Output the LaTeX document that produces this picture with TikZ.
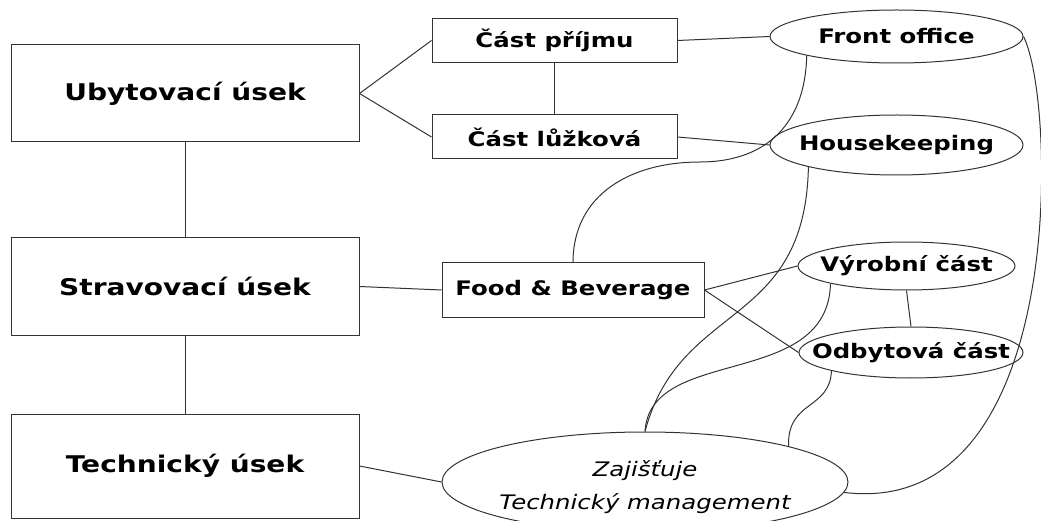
\documentclass[tikz,border=0pt]{standalone}
\usepackage{fontspec}
\setmainfont{DejaVu Sans}[FakeStretch=1.22]
\usetikzlibrary{shapes.geometric}
\tikzstyle{usek} = [rectangle, draw=black!80, line width=1pt, minimum width=348pt, minimum height=97pt, inner sep=0pt, font=\fontsize{23}{28}\selectfont\bfseries]
\tikzstyle{cast} = [rectangle, draw=black!80, line width=1pt, minimum width=245pt, minimum height=44pt, inner sep=0pt, font=\fontsize{20}{24}\selectfont\bfseries]
\tikzstyle{oval} = [ellipse, draw=black!80, line width=1pt, inner sep=0pt, font=\fontsize{20}{24}\selectfont\bfseries]
\tikzstyle{spoj} = [draw=black!80, line width=1pt]

\begin{document}
\begin{tikzpicture}[x=1pt,y=1pt]
\useasboundingbox (0,0) rectangle (1041,520);
% useky
\node (ubyt) [usek] at (185,426.5) {Ubytovací úsek};
\node (strav) [usek] at (185,233.5) {Stravovací úsek};
\node (tech) [usek,minimum height=104pt] at (185,54) {Technický úsek};
% casti
\node (prijem) [cast] at (554.5,479.5) {Část příjmu};
\node (luzko) [cast] at (554.5,383) {Část lůžková};
\node (fb) [cast,minimum width=262pt,minimum height=54pt] at (573,230) {Food \& Beverage};
% ovaly
\node (front) [oval,minimum width=253pt,minimum height=53pt] at (896.5,483.5) {\makebox[0pt]{Front office}};
\node (house) [oval,minimum width=253pt,minimum height=60pt] at (896.5,375) {\makebox[0pt]{Housekeeping}};
\node (vyr) [oval,minimum width=217pt,minimum height=48pt] at (906.5,254) {\makebox[0pt]{Výrobní část}};
\node (odb) [oval,minimum width=224pt,minimum height=51pt] at (911,167.5) {\makebox[0pt]{Odbytová část}};
\node (zaj) [oval,minimum width=406pt,minimum height=100pt,align=center,text height=60pt,font=\fontsize{20}{33}\selectfont\itshape] at (645,38) {\makebox[0pt]{Zajišťuje}\\\makebox[0pt]{Technický management}};

\draw [spoj] (ubyt.south) -- (strav.north);
\draw [spoj] (strav.south) -- (tech.north);
\draw [spoj] (ubyt.east) -- (prijem.west);
\draw [spoj] (ubyt.east) -- (luzko.west);
\draw [spoj] (prijem.south) -- (luzko.north);
\draw [spoj] (strav.east) -- (fb.west);
\draw [spoj] (tech.east) -- (zaj.west);
\draw [spoj] (prijem.east) -- (front.west);
\draw [spoj] (luzko.east) -- (house.west);
\draw [spoj] (fb.east) -- (vyr.west);
\draw [spoj] (fb.east) -- (odb.west);
\draw [spoj] (vyr.south) -- (odb.north);
% krivky
\draw [spoj] (front.192) .. controls (805,390) and (760,358) .. (700,358) .. controls (630,358) and (573,325) .. (fb.north);
\draw [spoj] (house.194) .. controls (805,190) and (680,220) .. (zaj.north);
\draw [spoj] (vyr.193) .. controls (828,130) and (650,175) .. (zaj.north);
\draw [spoj] (odb.193) .. controls (830,110) and (787,120) .. (zaj.14);
\draw [spoj] (front.east) .. controls (1056,420) and (1069,0) .. (zaj.357);
\end{tikzpicture}
\end{document}
